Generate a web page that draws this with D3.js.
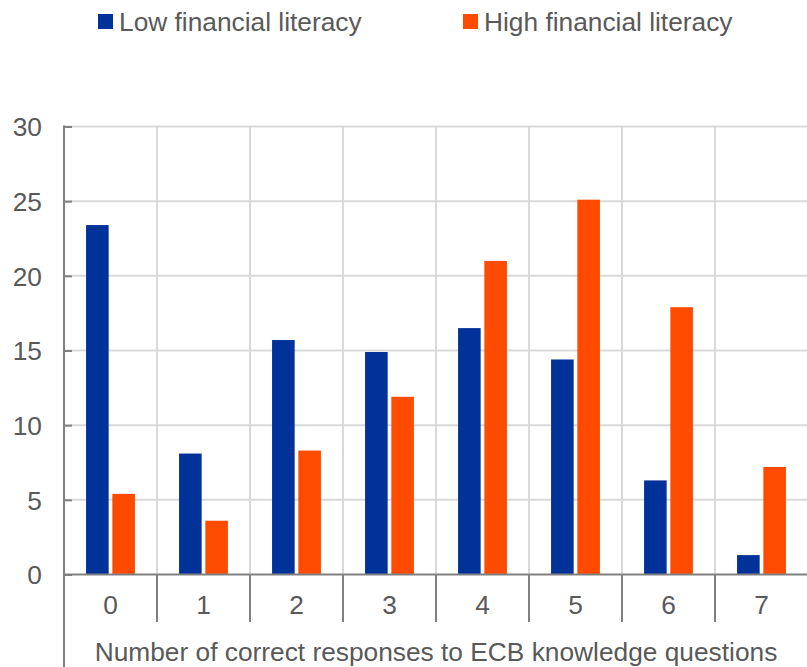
<!DOCTYPE html>
<html>
<head>
<meta charset="utf-8">
<script src="https://cdn.jsdelivr.net/npm/d3@7"></script>
<style>
  html, body { margin: 0; padding: 0; background: #fff; }
  svg { display: block; }
  text { font-family: "Liberation Sans", Arial, sans-serif; fill: #595959; }
</style>
</head>
<body>
<svg id="chart" width="807" height="667"></svg>
<script>
// Share of respondents (%) by number of correct answers
const categories = ["0", "1", "2", "3", "4", "5", "6", "7"];
const seriesNames = ["Low financial literacy", "High financial literacy"];
const lowLiteracy  = [23.4, 8.1, 15.7, 14.9, 16.5, 14.4, 6.3, 1.3];
const highLiteracy = [5.4, 3.6, 8.3, 11.9, 21.0, 25.1, 17.9, 7.2];
const yTicks = [0, 5, 10, 15, 20, 25, 30];
const xTitle = "Number of correct responses to ECB knowledge questions";

const colors = ["#003299", "#FF4B00"];
const gridColor = "#d9d9d9";
const axisColor = "#808080";
const fontSize = "26.3px";

const svg = d3.select("#chart");
const W = 807, H = 667;
const plotLeft = 64, plotRight = 808, plotTop = 126.5, plotBottom = 574.5;

const x = d3.scaleBand().domain(categories).range([plotLeft, plotRight]).padding(0);
const xs = d3.scaleBand().domain(seriesNames).range([0, x.bandwidth()])
  .paddingInner(0.14).paddingOuter(0.84);
const y = d3.scaleLinear().domain([0, 30]).range([plotBottom, plotTop]);

// horizontal gridlines
svg.append("g").selectAll("line").data(yTicks.filter(d => d > 0)).join("line")
  .attr("x1", plotLeft).attr("x2", W)
  .attr("y1", d => y(d)).attr("y2", d => y(d))
  .attr("stroke", gridColor).attr("stroke-width", 2);

// vertical category separators
svg.append("g").selectAll("line").data(categories.slice(1)).join("line")
  .attr("x1", d => x(d)).attr("x2", d => x(d))
  .attr("y1", plotTop).attr("y2", plotBottom)
  .attr("stroke", gridColor).attr("stroke-width", 2);

// bars
const rows = categories.map((c, i) => ({ c, vals: [lowLiteracy[i], highLiteracy[i]] }));
const groups = svg.append("g").selectAll("g").data(rows).join("g")
  .attr("transform", d => `translate(${x(d.c)},0)`);
groups.selectAll("rect")
  .data(d => d.vals.map((v, k) => ({ name: seriesNames[k], v, k })))
  .join("rect")
  .attr("x", d => xs(d.name))
  .attr("width", xs.bandwidth())
  .attr("y", d => y(d.v))
  .attr("height", d => y(0) - y(d.v))
  .attr("fill", d => colors[d.k]);

// y axis: inward ticks
const yAxisTicks = d3.axisRight(y).tickValues(yTicks).tickSize(8).tickFormat("");
const gy = svg.append("g").attr("transform", `translate(${plotLeft},0)`).call(yAxisTicks);
gy.select(".domain").remove();
gy.selectAll(".tick line").attr("stroke", axisColor).attr("stroke-width", 2);

// y axis labels
const yAxisLabels = d3.axisLeft(y).tickValues(yTicks).tickSize(0).tickPadding(22);
const gyl = svg.append("g").attr("transform", `translate(${plotLeft},0)`).call(yAxisLabels);
gyl.select(".domain").remove();
gyl.selectAll(".tick text")
  .style("font-family", '"Liberation Sans", Arial, sans-serif')
  .style("font-size", fontSize).attr("fill", "#595959").attr("dy", "0.35em");

// left axis line, running down through the category area
svg.append("line")
  .attr("x1", plotLeft).attr("x2", plotLeft).attr("y1", plotTop - 1).attr("y2", H)
  .attr("stroke", axisColor).attr("stroke-width", 2);

// bottom axis line
svg.append("line")
  .attr("x1", plotLeft).attr("x2", W).attr("y1", plotBottom).attr("y2", plotBottom)
  .attr("stroke", axisColor).attr("stroke-width", 2);

// category dividers below the axis
svg.append("g").selectAll("line").data(categories.slice(1)).join("line")
  .attr("x1", d => x(d)).attr("x2", d => x(d))
  .attr("y1", plotBottom).attr("y2", 622)
  .attr("stroke", axisColor).attr("stroke-width", 2);

// category labels
const xAxis = d3.axisBottom(x).tickSize(0).tickPadding(0);
const gx = svg.append("g").attr("transform", `translate(0,${plotBottom})`).call(xAxis);
gx.select(".domain").remove();
gx.selectAll(".tick text")
  .style("font-family", '"Liberation Sans", Arial, sans-serif')
  .style("font-size", fontSize).attr("fill", "#595959")
  .attr("y", 39).attr("dy", 0);

// axis title
svg.append("text")
  .attr("x", (plotLeft + plotRight) / 2).attr("y", 661)
  .attr("text-anchor", "middle")
  .style("font-size", fontSize)
  .text(xTitle);

// legend
const legendX = [98, 463];
const legend = svg.append("g").selectAll("g").data(seriesNames).join("g")
  .attr("transform", (d, i) => `translate(${legendX[i]},14)`);
legend.append("rect").attr("width", 15).attr("height", 15)
  .attr("fill", (d, i) => colors[i]);
legend.append("text").attr("x", 21).attr("y", 17)
  .style("font-size", fontSize).text(d => d);
</script>
</body>
</html>
